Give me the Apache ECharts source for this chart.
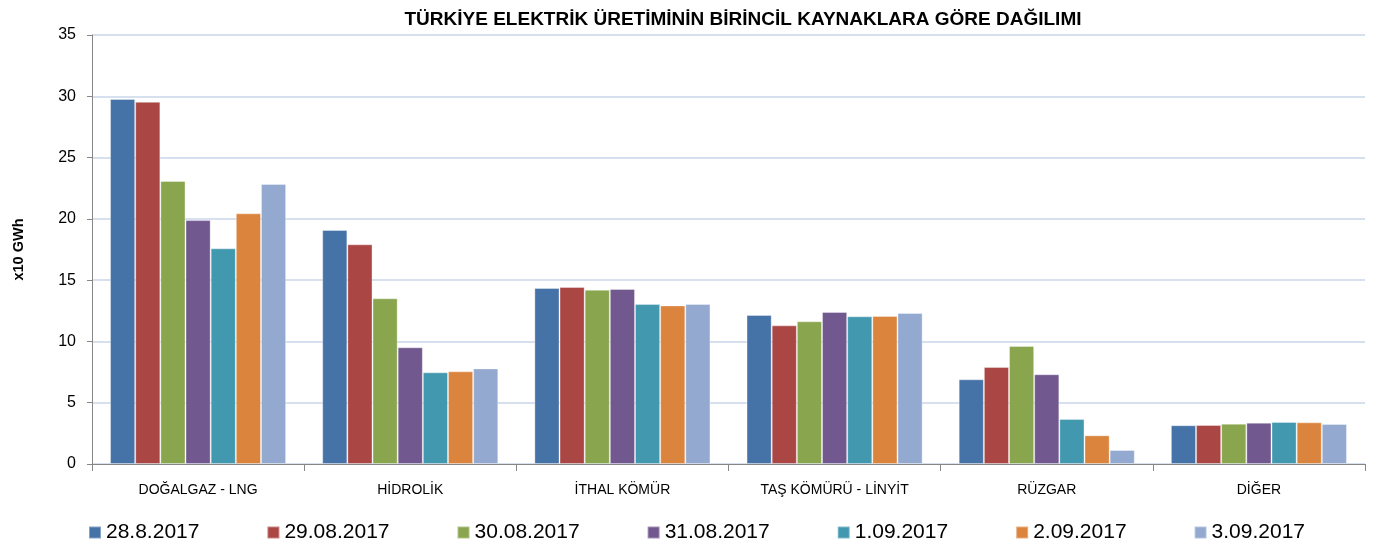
<!DOCTYPE html>
<html>
<head>
<meta charset="utf-8">
<script src="https://cdn.jsdelivr.net/npm/echarts@6/dist/echarts.min.js"></script>
<style>html,body{margin:0;padding:0;background:#fff}#c{width:1384px;height:544px}</style>
</head>
<body>
<div id="c"></div>
<script>
const categories = ['DOĞALGAZ - LNG', 'HİDROLİK', 'İTHAL KÖMÜR', 'TAŞ KÖMÜRÜ - LİNYİT', 'RÜZGAR', 'DİĞER'];
const seriesNames = ['28.8.2017', '29.08.2017', '30.08.2017', '31.08.2017', '1.09.2017', '2.09.2017', '3.09.2017'];
const s28_08 = [29.78, 19.09, 14.36, 12.16, 6.91, 3.16];
const s29_08 = [29.55, 17.92, 14.44, 11.31, 7.91, 3.18];
const s30_08 = [23.09, 13.52, 14.22, 11.64, 9.63, 3.29];
const s31_08 = [19.90, 9.52, 14.28, 12.40, 7.32, 3.37];
const s01_09 = [17.60, 7.48, 13.05, 12.05, 3.67, 3.43];
const s02_09 = [20.45, 7.56, 12.94, 12.07, 2.34, 3.40];
const s03_09 = [22.84, 7.80, 13.05, 12.32, 1.14, 3.26];
const yTicks = [0, 5, 10, 15, 20, 25, 30, 35];
const colors = ['#4572A7', '#AA4643', '#89A54E', '#71588F', '#4198AF', '#DB843D', '#93A9CF'];

const seriesData = [s28_08, s29_08, s30_08, s31_08, s01_09, s02_09, s03_09];
const FONT2 = '"Liberation Sans", sans-serif';

const chart = echarts.init(document.getElementById('c'), null, {renderer: 'canvas'});
chart.setOption({
  animation: false,
  color: colors,
  title: {
    text: 'TÜRKİYE ELEKTRİK ÜRETİMİNİN BİRİNCİL KAYNAKLARA GÖRE DAĞILIMI',
    left: 738, textAlign: 'center', top: 5,
    textStyle: {fontFamily: FONT2, fontSize: 19, fontWeight: 'bold', color: '#000'}
  },
  legend: {
    data: seriesNames,
    left: 83, top: 517,
    itemWidth: 12, itemHeight: 12, itemGap: 67,
    icon: 'rect',
    textStyle: {fontFamily: FONT2, fontSize: 21, color: '#000'}
  },
  grid: {left: 92, right: 19, top: 35, bottom: 80, containLabel: false},
  xAxis: {
    type: 'category',
    data: categories,
    axisLine: {lineStyle: {color: '#868686', width: 1}},
    axisTick: {show: true, length: 7, lineStyle: {color: '#868686'}},
    axisLabel: {fontFamily: FONT2, fontSize: 14, color: '#000', margin: 19}
  },
  yAxis: {
    type: 'value',
    min: 0, max: 35, interval: 5,
    name: 'x10 GWh',
    nameLocation: 'middle',
    nameGap: 66,
    nameTextStyle: {fontFamily: FONT2, fontSize: 14.5, fontWeight: 'bold', color: '#000'},
    axisLine: {show: true, lineStyle: {color: '#868686', width: 1}},
    axisTick: {show: true, length: 5, lineStyle: {color: '#868686'}},
    axisLabel: {fontFamily: FONT2, fontSize: 16, color: '#000', margin: 16},
    splitLine: {lineStyle: {color: '#C9D6E8', width: 1.5}}
  },
  series: seriesNames.map((n, i) => ({
    name: n,
    type: 'bar',
    data: seriesData[i],
    barGap: '0%',
    barCategoryGap: '17%',
    itemStyle: {color: colors[i], borderColor: 'rgba(255,255,255,0.35)', borderWidth: 1}
  }))
});
</script>
</body>
</html>
